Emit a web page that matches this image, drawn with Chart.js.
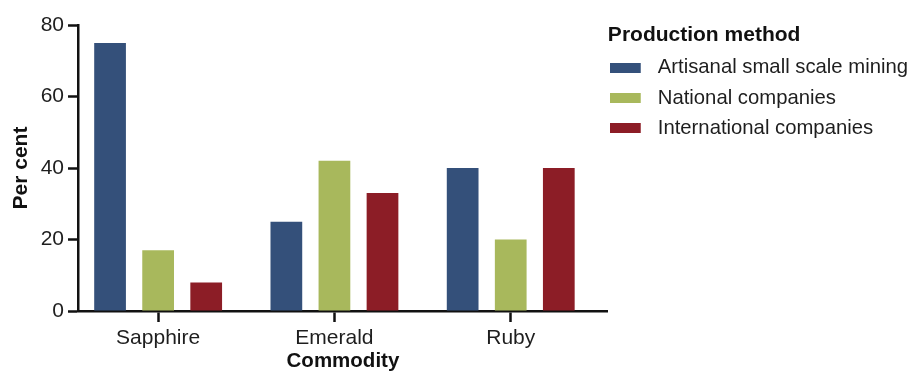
<!DOCTYPE html>
<html>
<head>
<meta charset="utf-8">
<script src="https://cdn.jsdelivr.net/npm/chart.js@4/dist/chart.umd.min.js"></script>
<style>
html,body{margin:0;padding:0;background:#fff;}
#wrap{width:915px;height:374px;}
</style>
</head>
<body>
<div id="wrap"><canvas id="c" width="915" height="374"></canvas></div>
<script>
const categories = ['Sapphire', 'Emerald', 'Ruby'];
const seriesNames = ['Artisanal small scale mining', 'National companies', 'International companies'];
const artisanal = [75, 25, 40];
const national = [17, 42, 20];
const international = [8, 33, 40];
const yTicks = [0, 20, 40, 60, 80];
const colors = ['#34507a', '#a8b85c', '#8c1d26'];

const FONT = '"Liberation Sans", Arial, sans-serif';
Chart.defaults.font.family = FONT;
Chart.defaults.color = '#1e1e1e';

// legend swatch images (31x10 rectangle, left-aligned in a 46px wide canvas)
function swatch(color) {
  const c = document.createElement('canvas');
  c.width = 46; c.height = 10;
  const g = c.getContext('2d');
  g.fillStyle = color;
  g.fillRect(0, 0, 31, 10);
  return c;
}
const swatches = colors.map(swatch);

const seriesValues = [artisanal, national, international];
const datasets = seriesValues.map((vals, i) => ({
  label: seriesNames[i],
  data: vals.map((v, j) => ({x: j, y: v})),
  backgroundColor: colors[i],
  borderWidth: 0,
  categoryPercentage: 0.818,
  barPercentage: 0.66
}));

new Chart(document.getElementById('c'), {
  type: 'bar',
  data: {datasets},
  options: {
    responsive: false,
    animation: false,
    layout: {padding: {top: 25, left: 6, right: -3, bottom: 0}},
    plugins: {
      tooltip: {enabled: false},
      legend: {
        position: 'right',
        align: 'start',
        maxWidth: 400,
        title: {display: true, text: 'Production method', position: 'start', color: '#111',
          font: {size: 21, weight: 'bold', family: FONT, lineHeight: 1.08}, padding: {top: 0, bottom: 0}},
        labels: {
          usePointStyle: true, pointStyleWidth: 29.75, boxHeight: 10, padding: 10, color: '#1e1e1e',
          font: {size: 20.3, family: FONT},
          generateLabels: (chart) => {
            const items = Chart.defaults.plugins.legend.labels.generateLabels(chart);
            items.forEach((it, i) => { it.pointStyle = swatches[i]; });
            return items;
          }
        }
      }
    },
    scales: {
      x: {
        type: 'linear',
        min: -0.4545,
        max: 2.551,
        offset: false,
        grid: {display: true, offset: false, drawOnChartArea: false, drawTicks: true, tickLength: 11, tickColor: '#111', tickWidth: 2.5},
        border: {display: true, color: '#111', width: 2.5},
        afterBuildTicks: (s) => { s.ticks = categories.map((c, i) => ({value: i})); },
        ticks: {callback: (v) => categories[v], font: {size: 21, family: FONT}, color: '#1e1e1e', padding: 4, maxRotation: 0},
        title: {display: true, text: 'Commodity', color: '#111', font: {size: 20.5, weight: 'bold', family: FONT}, padding: {top: 0, bottom: 0}},
        afterFit: (s) => { s.height = 63; }
      },
      y: {
        min: 0,
        max: 80,
        afterBuildTicks: (s) => { s.ticks = yTicks.map(v => ({value: v})); },
        grid: {display: true, drawOnChartArea: false, drawTicks: true, tickLength: 10, tickColor: '#111', tickWidth: 2.5},
        border: {display: true, color: '#111', width: 2.5},
        ticks: {font: {size: 21, family: FONT}, color: '#1e1e1e', padding: 4},
        title: {display: true, text: 'Per cent', color: '#111', font: {size: 21, weight: 'bold', family: FONT}, padding: {top: 3, bottom: 0}},
        afterFit: (s) => { s.width = 72; }
      }
    }
  }
});
</script>
</body>
</html>
